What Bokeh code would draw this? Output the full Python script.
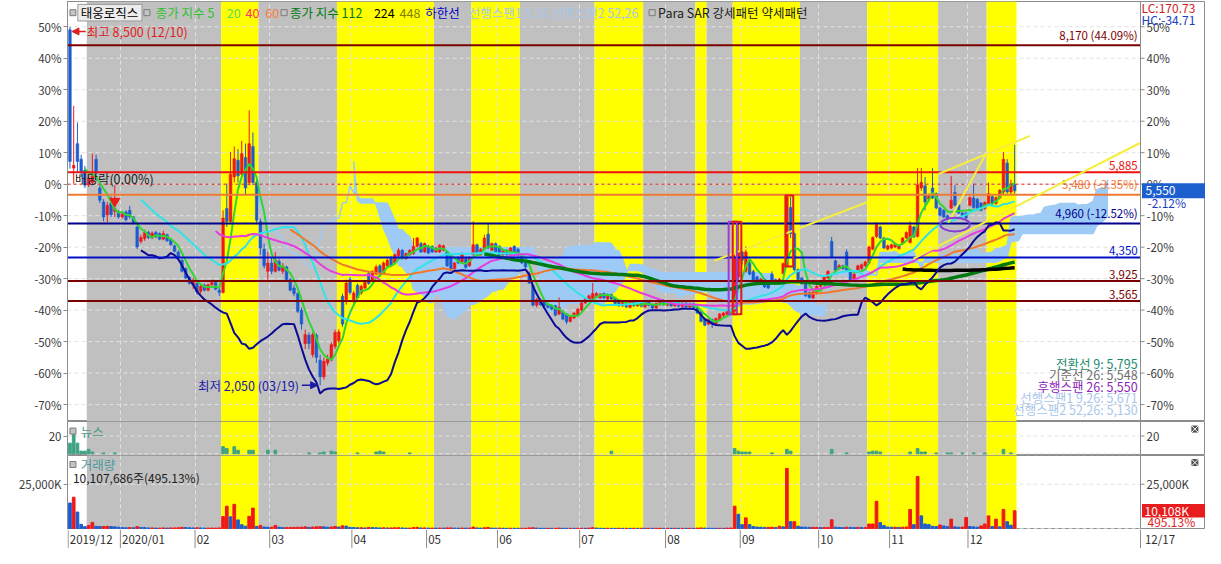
import numpy as np
import pandas as pd
from bokeh.plotting import figure
from bokeh.layouts import column
from bokeh.models import (Range1d, FixedTicker, CustomJSTickFormatter,
                          Arrow, NormalHead, Grid, ColumnDataSource)
from bokeh.core.properties import value
from bokeh.embed import file_html
from bokeh.resources import INLINE

# ------------------------------------------------------------------ data
stock_name = "태웅로직스"
base_price = 5670            # 0% reference price of the percent axis
last_price = 5550
ichimoku_shift = 25

opens = [
    8450,5960,6400,6120,5920,5660,5700,6120,5600,5350,5120,5330,5180,5170,
    5080,5170,5200,5080,4900,4640,4690,4800,4700,4800,4780,4680,4760,4680,4560,4450,4300,4150,3990,3860,
    3880,3740,3850,3760,3860,3900,3760,3720,5230,5000,5800,6100,5850,6150,5700,6350,5700,5000,4500,4100,
    4250,4100,4280,4100,4180,3950,3800,3700,3400,2800,2950,2600,2950,2500,2200,2450,2500,2750,2850,3650,3590,3950,
    3570,3850,3710,3800,4060,3920,4050,4200,4060,4200,4350,4250,4380,4480,4330,4400,4420,4550,4600,4450,
    4550,4550,4450,4450,4480,4450,4400,4150,4350,4270,4330,4200,4400,4580,4400,4500,4770,4480,4600,
    4550,4400,4480,4400,4550,4500,4380,4250,4060,3840,3490,3590,3560,3510,3480,3480,3330,3370,3330,3200,3260,3310,
    3400,3530,3580,3600,3640,3620,3700,3600,3680,3620,3560,3480,3560,3450,3540,3480,3560,3460,3560,3500,3440,3500,3580,
    3490,3560,3480,3540,3470,3530,3460,3520,3450,3380,3250,3150,3230,3150,3230,3300,3320,3350,3380,4000,
    4450,4100,4250,4100,4000,3900,3960,3900,4050,3950,3880,4060,4200,5250,4780,4130,3980,3880,3720,3620,3700,
    3830,3880,3980,4640,4290,4150,4200,4450,4120,3950,4100,4150,4200,4250,4500,4730,4900,4700,4500,
    4520,4540,4510,4600,4700,4620,4900,4730,5600,5640,5400,5600,5500,5240,5200,5100,5240,5520,5300,5150,5150,
    5290,5420,5400,5330,5230,5300,5450,5320,5420,5530,6050,5530,5670,
]
highs = [
    8500,7080,6780,6200,6000,5850,6220,6200,5650,5400,5350,5450,5650,5200,
    5160,5200,5280,5100,4920,4760,4850,4830,4820,4830,4800,4830,4780,4700,4580,4480,4320,4170,4010,3980,
    3900,3860,3880,3880,3950,3920,3800,5200,5680,6250,6350,6300,6450,6400,7000,6600,5780,5050,4600,4450,
    4350,4450,4320,4250,4200,3980,3850,3720,3450,3050,3000,3000,2980,2600,2550,2600,2820,3050,3060,3700,3950,4000,
    3750,3880,3860,3930,4100,4120,4220,4230,4280,4330,4380,4420,4520,4500,4440,4500,4700,4720,4630,4620,
    4580,4570,4540,4590,4580,4470,4420,4270,4370,4440,4350,4370,5000,4600,4520,4760,4960,4620,4620,
    4570,4500,4500,4540,4570,4520,4400,4270,4100,3860,3620,3610,3580,3530,3500,3500,3630,3400,3350,3310,3370,3440,
    3550,3620,3680,3890,3730,3710,3720,3700,3700,3640,3580,3580,3580,3560,3560,3570,3580,3580,3580,3520,3540,3600,3600,
    3580,3580,3560,3560,3550,3550,3540,3540,3470,3400,3270,3250,3250,3270,3350,3370,3400,3420,4400,5000,
    4480,4550,4300,4130,4020,3980,3980,3920,4100,3970,3980,4260,5450,5440,4800,4150,4000,3900,3740,3750,3850,
    3920,4020,4120,4720,4310,4230,4220,4500,4140,4070,4220,4240,4290,4560,4730,4980,4920,4720,4580,
    4600,4620,4580,4720,4820,5000,4920,5960,5960,5800,5500,5960,5520,5260,5220,5120,5820,5650,5320,5170,5170,
    5450,5680,5420,5350,5360,5700,5470,5450,5580,6250,6120,5750,6380,
]
lows = [
    5950,5680,5870,5800,5600,5620,5650,5720,5330,5000,4980,5080,5080,5050,
    5050,5000,5050,4950,4500,4600,4650,4680,4680,4700,4660,4660,4630,4560,4440,4330,4080,3960,3860,3780,
    3680,3700,3740,3740,3840,3760,3660,3700,4900,4950,5700,5700,5800,5480,5650,5650,4950,4400,4150,3950,
    4050,4080,4100,4050,3920,3740,3650,3350,3050,2700,2700,2550,2450,2050,2150,2400,2480,2700,2800,3100,3500,3680,
    3520,3600,3680,3780,3860,3900,4030,4030,4040,4180,4180,4230,4360,4310,4310,4380,4400,4530,4430,4430,
    4410,4430,4430,4430,4460,4180,4100,4130,4230,4250,4150,4180,4380,4400,4380,4480,4500,4460,4430,
    4380,4380,4380,4380,4380,4360,4230,4160,3870,3470,3450,3480,3460,3430,3400,3290,3310,3220,3150,3180,3240,3290,
    3380,3510,3560,3580,3620,3600,3600,3580,3580,3500,3460,3460,3440,3430,3460,3460,3450,3440,3470,3420,3420,3480,3480,
    3470,3460,3460,3450,3450,3440,3440,3430,3330,3180,3110,3130,3080,3130,3210,3280,3300,3330,3350,3900,
    4220,4080,4030,3920,3880,3870,3800,3780,3880,3860,3860,4040,4180,4700,4100,3930,3860,3640,3610,3600,3680,
    3810,3860,3960,4340,4100,4130,4130,4100,3920,3930,4080,4130,4180,4230,4480,4700,4680,4500,4480,
    4500,4520,4490,4580,4680,4600,4700,4710,5550,5200,5350,5400,5220,5090,5060,5020,5220,5270,5130,5070,5040,
    5270,5230,5200,5180,5210,5280,5300,5300,5400,5480,5500,5480,5500,
]
closes = [
    6080,6010,6080,5900,5650,5780,5820,5870,5380,5080,5290,5120,5230,5080,
    5130,5030,5080,4980,4540,4710,4800,4710,4790,4720,4680,4780,4650,4580,4460,4350,4100,3980,3880,3920,
    3730,3830,3760,3860,3900,3780,3720,5060,5000,5850,6130,5820,6220,5600,6400,5700,5020,4520,4200,4250,
    4100,4300,4120,4200,3950,3760,3700,3380,3150,2960,2800,2960,2550,2200,2480,2520,2780,3000,3010,3150,3890,3720,
    3710,3620,3830,3900,3880,4100,4180,4050,4250,4300,4200,4400,4480,4330,4420,4480,4550,4700,4450,4600,
    4430,4450,4520,4570,4560,4200,4120,4250,4250,4420,4170,4350,4580,4420,4500,4700,4520,4600,4450,
    4400,4480,4400,4520,4400,4380,4250,4180,3890,3490,3590,3500,3480,3450,3420,3310,3450,3240,3190,3290,3350,3420,
    3530,3600,3660,3700,3700,3690,3620,3680,3600,3520,3480,3560,3460,3540,3480,3550,3470,3560,3490,3440,3520,3580,3500,
    3560,3480,3540,3470,3530,3460,3520,3450,3350,3200,3130,3230,3150,3250,3330,3350,3380,3400,4360,4450,
    4300,4450,4050,3940,3900,3960,3820,3800,3900,3880,3960,4240,5440,4780,4130,3950,3880,3660,3630,3730,3830,
    3900,4000,4100,4360,4120,4200,4150,4120,3940,4050,4200,4220,4270,4540,4710,4940,4700,4520,4560,
    4580,4600,4560,4700,4800,4920,4720,5660,5700,5350,5460,5420,5240,5110,5080,5040,5380,5290,5150,5090,5060,
    5430,5250,5220,5200,5340,5500,5320,5430,5560,6120,5530,5670,5550,
]
volumes_k = [
    14460,17700,9400,2500,1200,1900,3600,1400,1300,1300,1400,1300,1100,900,
    700,600,700,600,1200,800,700,500,500,400,400,500,400,500,500,600,800,700,600,500,
    600,500,400,400,400,400,500,6850,12660,6700,13750,5000,2300,1500,7000,11600,1400,1900,1000,900,
    900,1900,900,700,700,800,800,900,900,1100,800,1000,1100,1200,1100,900,1000,1300,1000,1700,1500,800,
    700,600,600,500,800,700,600,500,600,500,500,600,600,500,400,400,700,800,500,500,
    400,420,380,410,400,500,520,400,380,420,390,400,1000,500,400,600,800,400,380,
    400,320,300,330,310,290,300,320,500,600,400,310,290,300,280,300,400,310,290,300,280,300,
    320,280,410,650,430,300,260,310,280,250,300,270,310,260,300,280,320,290,300,260,290,310,280,
    300,280,310,260,290,270,300,280,400,500,400,320,300,280,310,290,400,420,12680,8150,
    2350,6160,2350,1270,1000,900,800,800,900,700,1450,1100,33870,4000,4000,1450,1000,900,800,800,800,
    700,700,700,5070,900,800,700,900,800,700,800,700,700,2700,2700,15400,3440,1800,1000,
    900,900,800,900,1000,10870,2350,29350,7250,2700,2350,1450,1300,2170,1600,1200,5430,1100,900,1000,6340,
    1300,1100,900,1600,2700,7250,1300,5430,1100,10870,4000,2041,10108,
]
news_days = [0,1,2,3,4,5,6,9,12, 41,42,44,45,48,49,53,55, 64,67,68,70,71,77,82,83,84,91, 145,
             178,179,180,181,182, 188, 192,193, 204, 208, 214,215,216,217, 225,227,228,229,
             232,235,236,239, 242,245, 250,252]
news_counts = [12,22,12,3,3,5,2,1,1, 8,6,8,4,4,4,4,4, 1,1,2,3,2,1,2,3,2,1, 3,
               6,3,2,2,2, 1, 5,3, 5, 1, 2,3,3,2, 2,6,2,2,
               1,1,1,1, 1,1, 5,1]

month_first = [0, 14, 34, 54, 76, 96, 115, 137, 160, 180, 201, 220, 241]
month_labels = ["2019/12", "2020/01", "02", "03", "04", "05", "06", "07", "08", "09", "10", "11", "12"]
today_label = "12/17"

# background pattern zones (first / last trading-day index)
band_first = [5, 41, 51, 72, 98, 108, 121, 141, 154, 168, 171, 178, 196, 214, 233, 246]
band_last = [40, 50, 71, 97, 107, 120, 140, 153, 167, 170, 177, 195, 213, 232, 245, 253]
band_kind = ["약세", "강세"] * 8

level_prices = [8170, 5885, 5480, 4960, 4350, 3925, 3565]
level_labels = ["8,170 (44.09%)", "5,885", "5,480 (-3.35%)", "4,960 (-12.52%)", "4,350", "3,925", "3,565"]
level_colors = ["#7d0000", "#ee1111", "#ee7a33", "#00008c", "#0010c8", "#7d0000", "#7d0000"]

ma_periods = [5, 20, 40, 60, 112, 224]
ma_colors = ["#2fd62f", "#2fe3e8", "#e83ce0", "#f0782c", "#007a10", "#000000"]
ma_widths = [2, 2, 2, 2, 3.5, 3.5]

# user drawn trend lines (day index, price)
trend_x0 = [172.6, 232.6, 235.2, 225.9]
trend_y0 = [4292, 5854, 4977, 4327]
trend_x1 = [213.5, 257.1, 245.2, 286.7]
trend_y1 = [5345, 6539, 6205, 6416]

# pattern highlight boxes
pat_x0 = [176.4, 177.5, 191.6]
pat_x1 = [178.6, 179.8, 193.7]
pat_lo = [3327, 3327, 4187]
pat_hi = [4994, 4994, 5468]
pat_col = ["#9a3cd0", "#e01818", "#e01818"]
ellipse_day, ellipse_price = 237.05, 4942

ex_div_day = 12
high_day, low_day = 0, 67

ichimoku_texts = ["전환선 9: 5,795", "기준선 26: 5,548", "후행스팬 26: 5,550",
                  "선행스팬1 9,26: 5,671", "선행스팬2 52,26: 5,130"]
ichimoku_colors = ["#1d8a70", "#6e6e6e", "#8e1fb8", "#a9c6ea", "#a9c6ea"]

lc_text, hc_text = "LC:170.73", "HC:-34.71"
change_text = "-2.12%"
vol_text = "10,107,686주(495.13%)"
vol_box_text, vol_pct_text = "10,108K", "495.13%"

# ------------------------------------------------------------------ derived
n = len(closes)
idx = np.arange(n)
o = np.array(opens, float); hh = np.array(highs, float)
ll = np.array(lows, float); c = np.array(closes, float)
vol = np.array(volumes_k, float)

UP, DN = "#f01818", "#1c5ccf"
cndl_col = [UP if c[i] >= o[i] else DN for i in range(n)]
vol_col = [DN] + [UP if vol[i] >= vol[i - 1] else DN for i in range(1, n)]

cs = pd.Series(c)
mas = [cs.rolling(k).mean().to_numpy() for k in ma_periods]
bb_lower = (cs.rolling(20).mean() - 2 * cs.rolling(20).std(ddof=0)).to_numpy()
hs, ls = pd.Series(hh), pd.Series(ll)
tenkan = (hs.rolling(9).max() + ls.rolling(9).min()) / 2
kijun = (hs.rolling(26).max() + ls.rolling(26).min()) / 2
span1 = ((tenkan + kijun) / 2).to_numpy()
span2 = ((hs.rolling(52).max() + ls.rolling(52).min()) / 2).to_numpy()
span_x = idx + ichimoku_shift

# ------------------------------------------------------------------ layout helpers
W = 1205
LB, RB = 67, 65
X0, X1 = -0.66, 286.7                    # plotted day range (left of right axis)
UPP = (X1 - X0) / (W - LB - RB)          # day units per pixel
XR = X1 + RB * UPP                       # frame continues under right-axis strip
KF = "Noto Sans CJK KR"
GRID = "#e2e2e2"
AX = "#8c8c8c"
GRAY_BAND, YELLOW_BAND = "#c0c0c0", "#ffff00"
month_bounds = [m - 0.5 for m in month_first]
NUM = "11.5px"
KOR = "12.5px"

# reference-pixel helpers used only for placing texts
def mx(xr): return (xr - 70) / 3.784
def my(yr): return 8978 - 17.55 * yr
def ny(yr): return (465 - yr) / 0.9
def vy(yr): return (543.3 - yr) / 1.84 * 1000


def base_fig(height, y0, y1, top=0):
    f = figure(width=W, height=height, x_range=Range1d(X0, XR), y_range=Range1d(y0, y1),
               x_axis_location=None, y_axis_location="left", output_backend="svg",
               toolbar_location=None, min_border_left=LB, min_border_right=0,
               min_border_top=top, min_border_bottom=0)
    f.background_fill_color = "white"
    f.border_fill_color = "white"
    f.outline_line_color = AX
    f.grid.visible = False
    return f


def add_bands(f, y0, y1):
    r = f.quad(left=[b - 0.5 for b in band_first], right=[b + 0.5 for b in band_last],
               bottom=y0, top=y1,
               fill_color=[YELLOW_BAND if k == "강세" else GRAY_BAND for k in band_kind],
               line_color=None)
    r.level = "image"


def add_grid(f, yticks):
    g = Grid(dimension=0, ticker=FixedTicker(ticks=month_bounds[1:]),
             grid_line_color=GRID, grid_line_dash="4 3")
    f.add_layout(g)
    f.segment(x0=[X0] * len(yticks), x1=[X1] * len(yticks), y0=yticks, y1=yticks,
              line_color=GRID, line_dash="4 3", line_width=1)


def setup_axes(f, y0, y1, ticks, labels, formatter=None, overrides=None):
    ax = f.yaxis[0]
    ax.ticker = FixedTicker(ticks=ticks)
    if formatter is not None:
        ax.formatter = formatter
    if overrides is not None:
        ax.major_label_overrides = overrides
    ax.axis_line_color = AX
    ax.major_tick_line_color = AX
    ax.major_tick_in = 0
    ax.major_tick_out = 4
    ax.minor_tick_line_color = None
    ax.major_label_text_font = KF
    ax.major_label_text_font_size = NUM
    ax.major_label_text_color = "#3a3a3a"
    ax.major_label_standoff = 2
    # right-hand scale (drawn inside the extended frame)
    f.segment(x0=[X1], x1=[X1], y0=[y0], y1=[y1], line_color=AX, line_width=1)
    f.segment(x0=[X1] * len(ticks), x1=[X1 + 4 * UPP] * len(ticks), y0=ticks, y1=ticks,
              line_color=AX, line_width=1)
    f.text(x=[X1 + 6 * UPP] * len(ticks), y=ticks, text=labels, text_color="#3a3a3a",
           text_font=value(KF), text_font_size=NUM, text_align="left", text_baseline="middle")


def txt(f, x, y, s, color, size=KOR, align="left", baseline="middle"):
    f.text(x=[x], y=[y], text=[s], text_color=color, text_font=value(KF),
           text_font_size=size, text_align=align, text_baseline=baseline)


def icon(f, xs, y):
    f.scatter(x=xs, y=[y] * len(xs), marker="square", size=6,
              fill_color="#c4c4c4", line_color="#7a7a7a", line_width=1)


def close_btn(f, y):
    f.scatter(x=[mx(1210)], y=[y], marker="square_x", size=8,
              fill_color="#505050", line_color="white", line_width=1)

# ------------------------------------------------------------------ main price panel
Y0, Y1 = 1396, 8960
p = base_fig(421, Y0, Y1, top=1)
add_bands(p, Y0, Y1)
pct_steps = list(range(-7, 6))
pct_ticks = [base_price * (1 + k / 10) for k in pct_steps]
pct_labels = [f"{k * 10}%" for k in pct_steps]
add_grid(p, pct_ticks)

# ichimoku cloud
ok2 = ~np.isnan(span1) & ~np.isnan(span2)
p.varea(x=span_x[ok2], y1=span1[ok2], y2=span2[ok2], fill_color="#9ecbf6")
p.line(span_x, span1, line_color="#9ecbf6", line_width=1.5)
p.line(span_x, span2, line_color="#9ecbf6", line_width=1.5)

# candles
src = ColumnDataSource(dict(x=idx, o=o, h=hh, l=ll, c=c,
                            top=np.maximum(o, c), bot=np.minimum(o, c), col=cndl_col))
p.segment(x0="x", y0="l", x1="x", y1="h", color="col", line_width=1, source=src)
p.vbar(x="x", width=0.72, top="top", bottom="bot", fill_color="col", line_color="col",
       line_width=0.5, source=src)

# moving averages and lower band
for ma, col, w in zip(mas, ma_colors, ma_widths):
    p.line(idx, ma, line_color=col, line_width=w)
p.line(idx, bb_lower, line_color="#0a0a96", line_width=2)

# horizontal levels
p.segment(x0=[X0], x1=[X1], y0=[base_price], y1=[base_price], line_color="#e02020",
          line_width=1, line_dash="3 3")
nl = len(level_prices)
p.segment(x0=[X0] * nl, x1=[X1] * nl, y0=level_prices, y1=level_prices,
          line_color=level_colors, line_width=2)
for lv, lt, lc in zip(level_prices, level_labels, level_colors):
    txt(p, mx(1152), lv + 45, lt, lc, size=NUM, align="right", baseline="bottom")

# trend lines & pattern boxes
p.segment(x0=trend_x0, y0=trend_y0, x1=trend_x1, y1=trend_y1, line_color="#f6ee3a", line_width=2)
p.quad(left=pat_x0, right=pat_x1, bottom=pat_lo, top=pat_hi, fill_alpha=0,
       line_color=pat_col, line_width=2)
p.ellipse(x=[ellipse_day], y=[ellipse_price], width=7.9, height=246, fill_alpha=0,
          line_color="#8a3cd0", line_width=2)

# ex-dividend marker
p.scatter(x=[ex_div_day], y=[my(206)], marker="inverted_triangle", size=10,
          fill_color="#f01818", line_color="#f01818")
txt(p, mx(75), my(183), "배당락(0.00%)", "#202020")

# high / low annotations
hy = highs[high_day] - 80
p.add_layout(Arrow(end=NormalHead(size=7, fill_color="#e02020", line_color="#e02020"),
                   x_start=mx(86), y_start=hy, x_end=mx(72), y_end=hy,
                   line_color="#e02020", line_width=1.5))
txt(p, mx(87), hy, "최고 8,500 (12/10)", "#e02020")
p.add_layout(Arrow(end=NormalHead(size=7, fill_color="#1a1aa8", line_color="#1a1aa8"),
                   x_start=mx(305), y_start=lows[low_day], x_end=mx(321), y_end=lows[low_day],
                   line_color="#1a1aa8", line_width=1.5))
txt(p, mx(302), lows[low_day], "최저 2,050 (03/19)", "#1a1aa8", align="right")

# top legend
p.quad(left=[mx(78)], right=[mx(143)], top=[my(4)], bottom=[my(21)],
       fill_color="#ececec", line_color="#9a9a9a")
icon(p, [mx(73), mx(148), mx(287), mx(660)], my(12.5))
legend_items = [(81, stock_name, "#000000"), (157, "종가 지수 5", "#2fc02f"), (229, "20", "#5adc5a"),
                (248, "40", "#ff3366"), (268, "60", "#ff7a3a"), (293, "종가 지수 112", "#007a10"),
                (378, "224", "#000000"), (404, "448", "#808000"), (430, "하한선", "#0000c8"),
                (474, "선행스팬1 9,26  선행스팬2 52,26", "#a9c6ea"),
                (666, "Para SAR 강세패턴  약세패턴", "#202020")]
for xr, s, col in legend_items:
    txt(p, mx(xr), my(12.5), s, col)

# ichimoku values legend
for k, (s, col) in enumerate(zip(ichimoku_texts, ichimoku_colors)):
    txt(p, mx(1152), my(372 + 11.9 * k), s, col, align="right")

# right scale + current price box
setup_axes(p, Y0, Y1, pct_ticks, pct_labels, formatter=CustomJSTickFormatter(
    args=dict(base=base_price), code="return Math.round((tick/base-1)*100) + '%';"))
p.quad(left=[X1 + 1.5 * UPP], right=[XR], bottom=[last_price - 135], top=[last_price + 135],
       fill_color="#1d5fcf", line_color=None)
txt(p, X1 + 5 * UPP, last_price, "5,550", "white", size="12px")
txt(p, X1 + 7 * UPP, my(207.5), change_text, "#2040c0", size="12px")
txt(p, X1 + 1 * UPP, my(7), lc_text, "#d42020", size="12px")
txt(p, X1 + 1 * UPP, my(20), hc_text, "#2040c0", size="12px")

# ------------------------------------------------------------------ news panel
NY0, NY1 = -1.9, 36.3
pn = base_fig(34, NY0, NY1)
add_bands(pn, NY0, NY1)
add_grid(pn, [0, 20])
pn.vbar(x=news_days, top=news_counts, bottom=0, width=0.72, fill_color="#3fa286",
        line_color="#3fa286")
icon(pn, [mx(73)], ny(442))
txt(pn, mx(81), ny(442), "뉴스", "#4a9a8a")
setup_axes(pn, NY0, NY1, [20], ["20"])
close_btn(pn, ny(440))

# ------------------------------------------------------------------ volume panel
VY0, VY1 = -380, 41090
pv = base_fig(74, VY0, VY1)
add_bands(pv, VY0, VY1)
add_grid(pv, [0, 25000])
pv.vbar(x=idx, top=vol, bottom=0, width=0.72, fill_color=vol_col, line_color=vol_col)
icon(pv, [mx(73)], vy(477))
txt(pv, mx(81), vy(477), "거래량", "#4a9a9a")
txt(pv, mx(73), vy(490), vol_text, "#202020", size="12px")
setup_axes(pv, VY0, VY1, [25000], ["25,000K"], overrides={25000: "25,000K"})
pv.quad(left=[X1 + 1.5 * UPP], right=[XR], bottom=[vol[-1] - 3800], top=[vol[-1] + 3800],
        fill_color="#e81c1c", line_color=None)
txt(pv, X1 + 4 * UPP, vol[-1], vol_box_text, "white", size="12px")
txt(pv, X1 + 7 * UPP, vy(536), vol_pct_text, "#e02020", size="12px")
close_btn(pv, vy(475))

# ------------------------------------------------------------------ date strip
px = figure(width=W, height=19, x_range=Range1d(X0, XR), y_range=Range1d(0, 1),
            x_axis_location=None, y_axis_location=None, output_backend="svg",
            toolbar_location=None, min_border_left=LB, min_border_right=0,
            min_border_top=0, min_border_bottom=0)
px.outline_line_color = None
px.grid.visible = False
px.background_fill_color = "white"
px.border_fill_color = "white"
seps = month_bounds + [X1]
px.segment(x0=seps, y0=[0] * len(seps), x1=seps, y1=[1] * len(seps), line_color=AX, line_width=1)
px.text(x=[b + 0.45 for b in month_bounds], y=[0.5] * len(month_bounds), text=month_labels,
        text_color="#303030", text_font=value(KF), text_font_size=NUM,
        text_align="left", text_baseline="middle")
px.text(x=[X1 + 1.2], y=[0.5], text=[today_label], text_color="#303030", text_font=value(KF),
        text_font_size=NUM, text_align="left", text_baseline="middle")

layout = column(p, pn, pv, px, spacing=0)
open("out.html", "w", encoding="utf-8").write(file_html(layout, INLINE))
